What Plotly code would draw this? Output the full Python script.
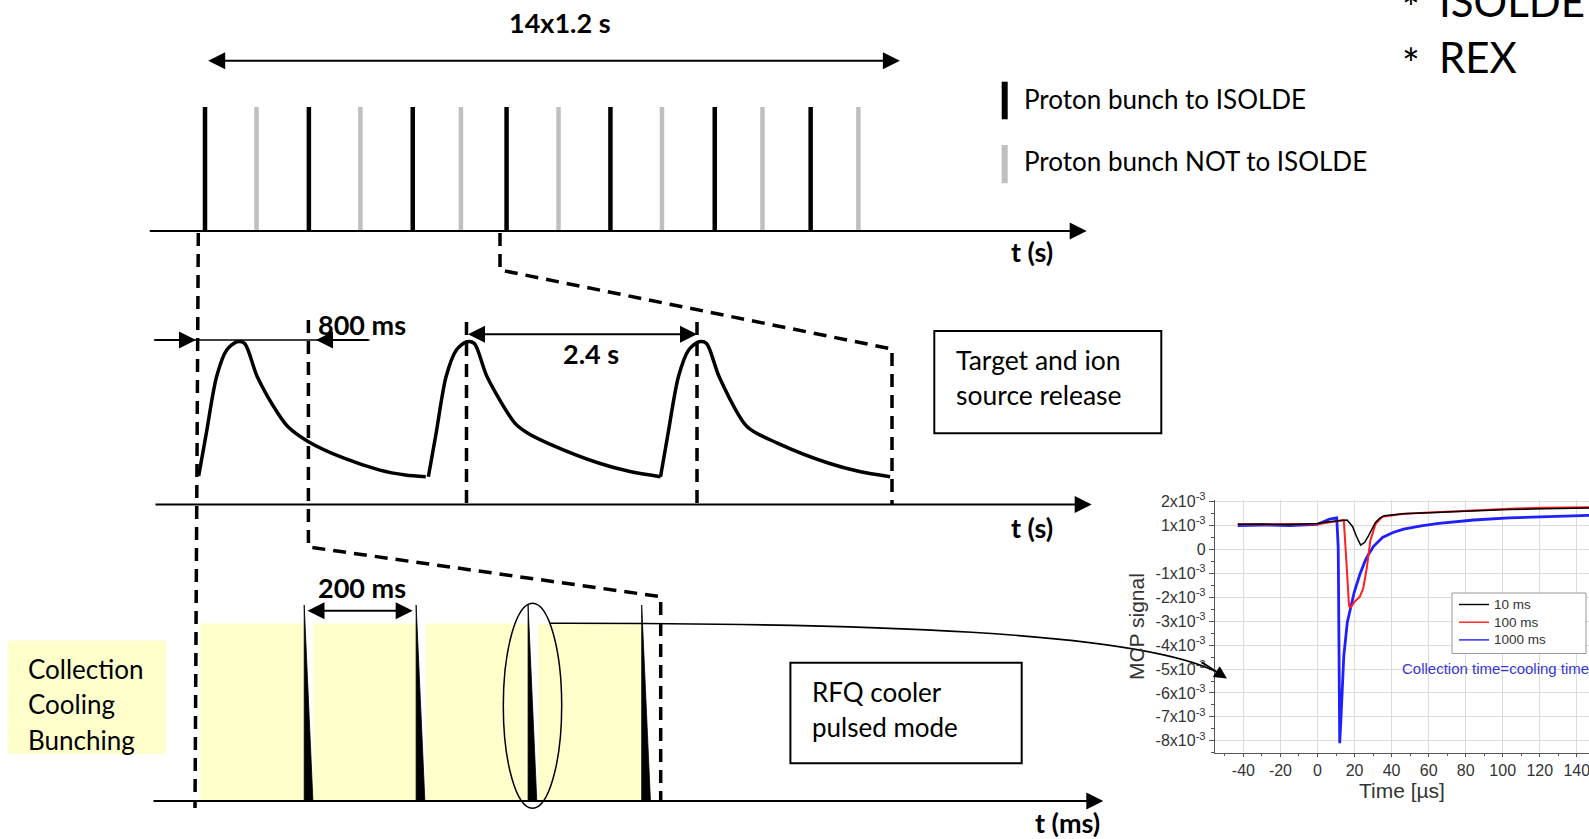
import plotly.graph_objects as go

W, H = 1589, 839

# ---------------- data ----------------
# Proton bunches of one PS Booster supercycle (s); even entries go to ISOLDE
bunch_t = [0.0, 1.23, 2.48, 3.71, 4.96, 6.11, 7.20, 8.44, 9.68, 10.91, 12.17, 13.31, 14.46, 15.60]
bunch_to_isolde = [True, False, True, False, True, False, True, False, True, False, True, False, True, False]

# Target and ion source release after each proton pulse (t in s, relative yield)
release_t_1 = [0.007, 0.087, 0.194, 0.300, 0.408, 0.487, 0.620, 0.835, 0.941, 1.155, 1.527, 1.902, 2.168, 2.382]
release_y_1 = [0.173, 0.436, 0.784, 0.949, 1.000, 0.990, 0.784, 0.559, 0.476, 0.384, 0.282, 0.209, 0.179, 0.168]
release_t_2 = [2.409, 2.490, 2.594, 2.702, 2.809, 2.889, 3.023, 3.316, 3.450, 3.661, 4.197, 4.517, 4.837]
release_y_2 = [0.168, 0.436, 0.784, 0.949, 1.000, 0.990, 0.784, 0.497, 0.436, 0.374, 0.251, 0.200, 0.168]
release_t_3 = [4.837, 4.916, 5.024, 5.131, 5.238, 5.317, 5.450, 5.743, 6.065, 6.598, 6.918, 7.238]
release_y_3 = [0.168, 0.436, 0.784, 0.949, 1.000, 0.990, 0.784, 0.476, 0.374, 0.251, 0.200, 0.168]

# RFQ cooler in pulsed mode (t in ms)
rfq_bunch_ms = [200, 399, 598, 800]
rfq_bunch_width_ms = 15.5
collect_start_ms = [14.8, 216.2, 416.0, 616.2]
collect_end_ms = [198.4, 398.8, 598.4, 800.0]
collect_level = 0.905

# MCP signal of the extracted bunch (signal in units of 1e-3)
mcp_10ms_t = [-43, -30, -15, 0, 5, 12, 16, 19, 21, 23.3, 25.5, 27.5, 29.5, 31.3, 33.5, 36, 46.5, 65.5, 84.4, 103.4, 122.4, 153]
mcp_10ms_v = [1.05, 1.06, 1.04, 1.08, 1.15, 1.2, 1.23, 0.95, 0.55, 0.18, 0.3, 0.57, 0.9, 1.13, 1.3, 1.41, 1.49, 1.56, 1.63, 1.67, 1.70, 1.74]
mcp_100ms_t = [-43, -30, -15, 0, 5, 10, 14.2, 15.7, 17, 17.6, 20, 22.8, 24.7, 26.6, 28.5, 31.3, 35.1, 46.5, 65.5, 84.4, 103.4, 122.4, 153]
mcp_100ms_v = [1.05, 1.04, 1.06, 1.05, 1.12, 1.18, 1.23, -0.64, -2.33, -2.45, -2.19, -1.98, -1.63, -0.78, 0.35, 1.06, 1.37, 1.49, 1.56, 1.65, 1.70, 1.74, 1.77]
mcp_1000ms_t = [-43, -30, -15, 0, 6.6, 10.4, 11.2, 11.6, 12.0, 12.7, 14.2, 16.1, 18.0, 19.9, 22.8, 25.6, 27.5, 30.4, 35.1, 40.8, 46.5, 56, 65.5, 75, 84.4, 103.4, 122.4, 153]
mcp_1000ms_v = [1.0, 1.02, 1.0, 1.05, 1.27, 1.32, 0.07, -4.17, -8.1, -7.0, -4.46, -3.04, -2.33, -1.77, -1.06, -0.50, -0.21, 0.14, 0.50, 0.71, 0.85, 0.99, 1.09, 1.17, 1.23, 1.32, 1.37, 1.44]
mcp_names = ["10 ms", "100 ms", "1000 ms"]

mcp_xticks = [-40, -20, 0, 20, 40, 60, 80, 100, 120, 140]
mcp_xticktext = ["-40", "-20", "0", "20", "40", "60", "80", "100", "120", "140"]
mcp_yticks = [2, 1, 0, -1, -2, -3, -4, -5, -6, -7, -8]
mcp_yticktext = ["2x10<sup>-3</sup>", "1x10<sup>-3</sup>", "0", "-1x10<sup>-3</sup>", "-2x10<sup>-3</sup>",
                 "-3x10<sup>-3</sup>", "-4x10<sup>-3</sup>", "-5x10<sup>-3</sup>", "-6x10<sup>-3</sup>",
                 "-7x10<sup>-3</sup>", "-8x10<sup>-3</sup>"]


# ---------------- axis placement helpers ----------------
def x_range(va, pa, vb, pb, p_lo=0.0, p_hi=W):
    s = (pb - pa) / (vb - va)
    return [va + (p_lo - pa) / s, va + (p_hi - pa) / s]


def y_domain(va, pa, vb, pb, lo, hi):
    s = (pb - pa) / (vb - va)
    p_lo = pa + (lo - va) * s
    p_hi = pa + (hi - va) * s
    return [1 - p_lo / H, 1 - p_hi / H]


fig = go.Figure()

# ---- top: proton bunches ----
for to_isolde, colour in [(True, "black"), (False, "#bfbfbf")]:
    xs, ys = [], []
    for t, flag in zip(bunch_t, bunch_to_isolde):
        if flag == to_isolde:
            xs += [t, t, None]
            ys += [0, 1, None]
    fig.add_trace(go.Scatter(x=xs, y=ys, mode="lines", line=dict(color=colour, width=4.5),
                             xaxis="x2", yaxis="y2", showlegend=False, hoverinfo="skip"))

# ---- middle: release curve ----
for rt, ry in [(release_t_1, release_y_1), (release_t_2, release_y_2), (release_t_3, release_y_3)]:
    fig.add_trace(go.Scatter(x=rt, y=ry, mode="lines", line=dict(color="black", width=3.5, shape="spline", smoothing=0.8),
                             xaxis="x3", yaxis="y3", showlegend=False, hoverinfo="skip"))

# ---- bottom: collection windows and extracted bunches ----
fig.add_trace(go.Bar(
    x=[(a + b) / 2 for a, b in zip(collect_start_ms, collect_end_ms)],
    y=[collect_level] * len(collect_start_ms),
    width=[b - a for a, b in zip(collect_start_ms, collect_end_ms)],
    marker=dict(color="#ffffcc", line=dict(width=0)),
    xaxis="x4", yaxis="y4", showlegend=False, hoverinfo="skip"))
for t in rfq_bunch_ms:
    fig.add_trace(go.Scatter(x=[t, t, t + rfq_bunch_width_ms, t], y=[1, 0, 0, 1], mode="lines",
                             fill="toself", fillcolor="black", line=dict(color="black", width=0.8),
                             xaxis="x4", yaxis="y4", showlegend=False, hoverinfo="skip"))

# ---- inset: MCP signal ----
mcp_colours = {"10 ms": "black", "100 ms": "#ff1f1f", "1000 ms": "#1f1fff"}
for name, tt, vv, lw in [
    ("1000 ms", mcp_1000ms_t, mcp_1000ms_v, 2.8),
    ("100 ms", mcp_100ms_t, mcp_100ms_v, 2.0),
    ("10 ms", mcp_10ms_t, mcp_10ms_v, 1.5),
]:
    fig.add_trace(go.Scatter(x=tt, y=vv, mode="lines", name=name, line=dict(color=mcp_colours[name], width=lw),
                             xaxis="x5", yaxis="y5", showlegend=False))

hidden = dict(visible=False, showgrid=False, zeroline=False, fixedrange=True, automargin=False)
inset_font = dict(family="Liberation Sans, Arial", size=16, color="#333333")
title_font = dict(family="Liberation Sans, Arial", size=21, color="#333333")

fig.update_layout(
    width=W, height=H, autosize=False,
    margin=dict(l=0, r=0, t=0, b=0, pad=0, autoexpand=False),
    paper_bgcolor="white", plot_bgcolor="rgba(0,0,0,0)",
    font=dict(family="Lato", color="black"),
    showlegend=False,
    xaxis=dict(range=[0, W], domain=[0, 1], anchor="y", **hidden),
    yaxis=dict(range=[H, 0], domain=[0, 1], anchor="x", **hidden),
    xaxis2=dict(range=x_range(0, 205, 15.6, 858.4), domain=[0, 1], anchor="y2", **hidden),
    yaxis2=dict(range=[-0.05, 1.05], domain=y_domain(0, 231, 1, 107, -0.05, 1.05), anchor="x2", **hidden),
    xaxis3=dict(range=x_range(0, 198, 2.4, 427.5), domain=[0, 1], anchor="y3", **hidden),
    yaxis3=dict(range=[-0.05, 1.05], domain=y_domain(0, 504, 1, 341.7, -0.05, 1.05), anchor="x3", **hidden),
    xaxis4=dict(range=x_range(0, 191.7, 800, 641.7), domain=[0, 1], anchor="y4", **hidden),
    yaxis4=dict(range=[-0.03, 1.05], domain=y_domain(0, 800.7, 1, 605, -0.03, 1.05), anchor="x4", **hidden),
    xaxis5=dict(
        range=x_range(-40, 1243.4, 140, 1576.8, 1214.9, W), domain=[1214.9 / W, 1], anchor="y5",
        tickmode="array", tickvals=mcp_xticks, ticktext=mcp_xticktext, ticks="outside", ticklen=3, tickcolor="#555",
        showline=True, linecolor="#555", linewidth=1.2, showgrid=True, gridcolor="#dcdcdc", gridwidth=1,
        zeroline=False, tickfont=inset_font, fixedrange=True, automargin=False, ticklabeloverflow="allow",
        minor=dict(dtick=10, tick0=0, ticks="outside", ticklen=2, tickcolor="#555", showgrid=False),
        title=dict(text="Time [µs]", font=title_font, standoff=4),
    ),
    yaxis5=dict(
        range=[-8.5, 2.05], domain=y_domain(2, 501.6, -8, 740.8, -8.5, 2.05), anchor="x5",
        tickmode="array", tickvals=mcp_yticks, ticktext=mcp_yticktext, ticks="outside", ticklen=5, tickcolor="#555",
        showline=True, linecolor="#555", linewidth=1.2, showgrid=True, gridcolor="#dcdcdc", gridwidth=1,
        zeroline=False, tickfont=inset_font, fixedrange=True, automargin=False, ticklabeloverflow="allow",
        minor=dict(dtick=0.5, tick0=0, ticks="outside", ticklen=3, tickcolor="#555", showgrid=False),
        title=dict(text="MCP signal", font=title_font, standoff=5),
    ),
)

# ---------------- drawing helpers (overlay in page pixels) ----------------
def arrow(x0, y0, x1, y1, both=False, width=2.0, size=1.7):
    fig.add_annotation(x=x1, y=y1, ax=x0, ay=y0, xref="x", yref="y", axref="x", ayref="y",
                       text="", showarrow=True, arrowhead=2, arrowsize=size, arrowwidth=width,
                       arrowcolor="black", arrowside="end+start" if both else "end",
                       startarrowhead=2, startarrowsize=size)


def label(text, x, y, size=26, bold=False, anchor="left", colour="black", family="Lato"):
    fig.add_annotation(x=x, y=y, xref="x", yref="y", text=f"<b>{text}</b>" if bold else text,
                       showarrow=False, xanchor=anchor, yanchor="middle",
                       font=dict(size=size, color=colour, family=family))


def path(d, width=3.5, dash="13px,8px", colour="black"):
    fig.add_shape(type="path", path=d, xref="x", yref="y", line=dict(color=colour, width=width, dash=dash))


# time axes
arrow(148.3, 231, 1086.7, 231)
arrow(154, 504.5, 1091.7, 504.5)
arrow(152, 801, 1103.3, 801)
label("t (s)", 1032, 251, size=27, bold=True, anchor="center")
label("t (s)", 1032, 527, size=27, bold=True, anchor="center")
label("t (ms)", 1067, 822, size=27, bold=True, anchor="center")

# supercycle length
arrow(206.7, 60.8, 899.9, 60.8, both=True)
label("14x1.2 s", 560, 22, size=27, bold=True, anchor="center")

# bunch key
fig.add_shape(type="line", x0=1004.7, x1=1004.7, y0=81.7, y1=119.3, xref="x", yref="y", line=dict(color="black", width=6))
fig.add_shape(type="line", x0=1004.7, x1=1004.7, y0=145, y1=183.3, xref="x", yref="y", line=dict(color="#bfbfbf", width=6))
label("Proton bunch to ISOLDE", 1022, 99, size=26)
label("Proton bunch NOT to ISOLDE", 1022, 161, size=26)

# zoom connectors
path("M198.3,233 L195,808")
path("M500,233 L500,270 L892,349 L892,504")
path("M308.4,320 L308.4,547 L660.7,596.7 L660.7,801")
path("M466.5,322 L466.5,504")
path("M697,322 L697,504")

# 800 ms and 2.4 s markers
fig.add_shape(type="line", x0=153.8, x1=369.6, y0=340, y1=340, xref="x", yref="y", line=dict(color="black", width=1.5))
arrow(153.8, 340, 196, 340)
arrow(369.6, 340, 316, 340)
label("800 ms", 316, 324, size=27, bold=True)
arrow(466.5, 334.3, 697, 334.3, both=True)
label("2.4 s", 591, 353, size=27, bold=True, anchor="center")

# 200 ms marker
arrow(306, 610.7, 412.7, 610.7, both=True)
label("200 ms", 362, 587, size=27, bold=True, anchor="center")

# text boxes
fig.add_shape(type="rect", x0=934.3, y0=331, x1=1161.3, y1=433.3, xref="x", yref="y", line=dict(color="black", width=2))
label("Target and ion", 954, 360, size=26.5)
label("source release", 954, 395, size=26.5)
fig.add_shape(type="rect", x0=790.4, y0=662.7, x1=1021.7, y1=763.3, xref="x", yref="y", line=dict(color="black", width=2))
label("RFQ cooler", 810, 692)
label("pulsed mode", 810, 727)
fig.add_shape(type="rect", x0=8.1, y0=640.5, x1=166.2, y1=754, xref="x", yref="y", fillcolor="#ffffcc",
              line=dict(width=0), layer="below")
label("Collection", 26, 669)
label("Cooling", 26, 704)
label("Bunching", 26, 740)

# selected bunch and link to the MCP measurement
fig.add_shape(type="circle", x0=503.3, y0=603.3, x1=561.7, y1=808.3, xref="x", yref="y", line=dict(color="black", width=1.5))
path("M550,623.3 C850,623 1150,630 1224,676", width=1.6, dash="solid")
arrow(1200, 661, 1227, 678.5, width=1.6, size=1.6)

# inset key box
fig.add_shape(type="rect", x0=1452, y0=593, x1=1586, y1=653.5, xref="x", yref="y",
              fillcolor="white", line=dict(color="#999", width=1))
for i, name in enumerate(mcp_names):
    yk = 604.5 + 17.7 * i
    fig.add_shape(type="line", x0=1459, x1=1489, y0=yk, y1=yk, xref="x", yref="y",
                  line=dict(color=mcp_colours[name], width=1.4))
    label(name, 1492, yk, size=13.5, colour="#333", family="Liberation Sans, Arial")

# inset note
label("Collection time=cooling time", 1400, 668, size=15, colour="#3838d0", family="Liberation Sans, Arial")

# facility list
label("*", 1410.6, 6.7, size=42, anchor="center")
label("ISOLDE", 1437, 1, size=42)
label("*", 1410.6, 62.7, size=42, anchor="center")
label("REX", 1437, 57, size=42)

fig.write_html("out.html")
